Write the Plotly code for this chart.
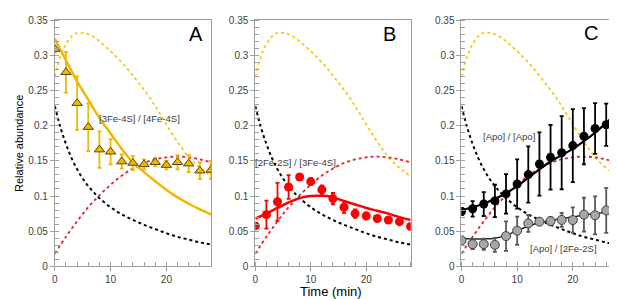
import plotly.graph_objects as go

# ---------------- data ----------------
t_ref = [0, 1, 2, 3, 4, 5, 6, 7, 8, 9, 10, 11, 12, 13, 14, 15, 16, 17, 18, 19, 20, 21, 22, 23, 24, 25, 26, 27, 28]
ref_yellow = [0.270, 0.298, 0.316, 0.327, 0.332, 0.332, 0.330, 0.326, 0.320, 0.313, 0.306, 0.298, 0.290, 0.281,
              0.271, 0.261, 0.251, 0.240, 0.228, 0.215, 0.202, 0.189, 0.177, 0.166, 0.155, 0.147, 0.140, 0.134, 0.128]
t_ref2 = [0, 1, 2, 3, 4, 5, 6, 7, 8, 10, 12, 14, 16, 18, 20, 22, 24, 26, 28]
ref_black = [0.228, 0.198, 0.174, 0.154, 0.138, 0.125, 0.114, 0.105, 0.097, 0.084, 0.074, 0.066, 0.059, 0.053,
             0.047, 0.042, 0.038, 0.034, 0.031]
t_ref3 = [0, 2, 4, 6, 8, 10, 12, 14, 16, 18, 20, 22, 24, 26, 28]
ref_red = [0.018, 0.042, 0.064, 0.084, 0.101, 0.116, 0.129, 0.139, 0.147, 0.152, 0.155, 0.156, 0.155, 0.152, 0.148]

t_data = [0, 2, 4, 6, 8, 10, 12, 14, 16, 18, 20, 22, 24, 26, 28]

# Panel A: [3Fe-4S]/[4Fe-4S]
a_vals = [0.309, 0.276, 0.232, 0.198, 0.166, 0.163, 0.149, 0.147, 0.145, 0.148, 0.144, 0.148, 0.146, 0.136, 0.137]
a_err = [0.005, 0.029, 0.038, 0.034, 0.026, 0.018, 0.010, 0.010, 0.007, 0.006, 0.006, 0.010, 0.012, 0.012, 0.013]
a_fit = [0.324, 0.293, 0.263, 0.237, 0.211, 0.189, 0.167, 0.148, 0.134, 0.121, 0.109, 0.098, 0.089, 0.081, 0.074]

# Panel B: [2Fe-2S]/[3Fe-4S]
b_vals = [0.0575, 0.0735, 0.0918, 0.1128, 0.127, 0.1205, 0.109, 0.0963, 0.084, 0.075, 0.0717, 0.068, 0.0658, 0.0635, 0.0566]
b_err = [0.0, 0.020, 0.027, 0.017, 0.003, 0.005, 0.006, 0.008, 0.008, 0.006, 0.005, 0.003, 0.003, 0.003, 0.003]
t_bfit = [0, 2, 4, 6, 8, 10, 12, 13, 14, 16, 18, 20, 22, 24, 26, 28]
b_fit = [0.068, 0.075, 0.083, 0.091, 0.097, 0.100, 0.1005, 0.100, 0.098, 0.093, 0.088, 0.083, 0.079, 0.075, 0.070, 0.066]

# Panel C: [Apo]/[Apo] and [Apo]/[2Fe-2S]
c1_vals = [0.078, 0.0818, 0.0886, 0.093, 0.103, 0.117, 0.1305, 0.1456, 0.155, 0.1616, 0.1717, 0.185, 0.196, 0.2014, 0.206]
c1_err = [0.005, 0.011, 0.017, 0.023, 0.028, 0.035, 0.040, 0.045, 0.046, 0.052, 0.052, 0.040, 0.036, 0.030, 0.024]
c1_fit = [0.080, 0.084, 0.089, 0.096, 0.104, 0.114, 0.126, 0.138, 0.149, 0.158, 0.167, 0.178, 0.190, 0.204, 0.219]
c2_vals = [0.037, 0.0315, 0.0315, 0.0305, 0.043, 0.0507, 0.061, 0.0635, 0.0644, 0.066, 0.0658, 0.0735, 0.0726, 0.0795, 0.0795]
c2_err = [0.004, 0.007, 0.008, 0.010, 0.021, 0.020, 0.012, 0.005, 0.006, 0.010, 0.018, 0.024, 0.027, 0.032, 0.025]
c2_fit = [0.040, 0.039, 0.039, 0.040, 0.044, 0.051, 0.057, 0.062, 0.065, 0.068, 0.070, 0.073, 0.075, 0.077, 0.080]

x_ticks = [0, 10, 20]
y_ticks = [0, 0.05, 0.1, 0.15, 0.2, 0.25, 0.3, 0.35]
y_ticklabels = ["0", "0.05", "0.1", "0.15", "0.2", "0.25", "0.3", "0.35"]

# ---------------- styles ----------------
GOLD = "#F2B700"
GOLD_DOT = "#F7C815"
RED = "#FF0000"
RED_DOT = "#E8202A"
FONT = "Liberation Sans"

fig = go.Figure()

panels = [("x", "y"), ("x2", "y2"), ("x3", "y3")]

# dotted reference curves on every panel
for xa, ya in panels:
    fig.add_trace(go.Scatter(x=t_ref, y=ref_yellow, mode="lines", xaxis=xa, yaxis=ya,
                             line=dict(color=GOLD_DOT, width=1.8, dash="dot", shape="spline"), showlegend=False))
    fig.add_trace(go.Scatter(x=t_ref3, y=ref_red, mode="lines", xaxis=xa, yaxis=ya,
                             line=dict(color=RED_DOT, width=1.8, dash="dot", shape="spline"), showlegend=False))
    fig.add_trace(go.Scatter(x=t_ref2, y=ref_black, mode="lines", xaxis=xa, yaxis=ya,
                             line=dict(color="#000000", width=2, dash="dot", shape="spline"), showlegend=False))

# Panel A
fig.add_trace(go.Scatter(x=t_data, y=a_fit, mode="lines", xaxis="x", yaxis="y",
                         line=dict(color=GOLD, width=2.5, shape="spline"), showlegend=False))
fig.add_trace(go.Scatter(x=t_data, y=a_vals, mode="markers", xaxis="x", yaxis="y",
                         error_y=dict(type="data", array=a_err, color=GOLD, thickness=1.8, width=2),
                         marker=dict(symbol="triangle-up", size=9, color=GOLD,
                                     line=dict(color="#5a4500", width=1)), showlegend=False))

# Panel B
fig.add_trace(go.Scatter(x=t_bfit, y=b_fit, mode="lines", xaxis="x2", yaxis="y2",
                         line=dict(color=RED, width=2.5, shape="spline"), showlegend=False))
fig.add_trace(go.Scatter(x=t_data, y=b_vals, mode="markers", xaxis="x2", yaxis="y2",
                         error_y=dict(type="data", array=b_err, color=RED, thickness=1.8, width=2),
                         marker=dict(symbol="circle", size=9, color=RED), showlegend=False))

# Panel C
fig.add_trace(go.Scatter(x=t_data, y=c2_fit, mode="lines", xaxis="x3", yaxis="y3",
                         line=dict(color="#262626", width=1.5, shape="spline"), showlegend=False))
fig.add_trace(go.Scatter(x=t_data, y=c2_vals, mode="markers", xaxis="x3", yaxis="y3",
                         error_y=dict(type="data", array=c2_err, color="#595959", thickness=1.8, width=2),
                         marker=dict(symbol="circle", size=9, color="#A6A6A6",
                                     line=dict(color="#404040", width=1)), showlegend=False))
fig.add_trace(go.Scatter(x=t_data, y=c1_fit, mode="lines", xaxis="x3", yaxis="y3",
                         line=dict(color="#000000", width=2.2, shape="spline"), showlegend=False))
fig.add_trace(go.Scatter(x=t_data, y=c1_vals, mode="markers", xaxis="x3", yaxis="y3",
                         error_y=dict(type="data", array=c1_err, color="#000000", thickness=1.8, width=2),
                         marker=dict(symbol="circle", size=9, color="#000000"), showlegend=False))

W, H = 617, 299
x_domains = [[44 / W, 201 / W], [245.5 / W, 401.5 / W], [452.7 / W, 609.3 / W]]
y_domain = [1 - 263 / H, 1 - 7.5 / H]

axis_common = dict(showline=True, linecolor="#A0A0A0", linewidth=1, mirror=True, showgrid=False,
                   zeroline=False, ticks="outside", ticklen=4, tickcolor="#A0A0A0",
                   tickfont=dict(family=FONT, size=10, color="#404040"))

layout = dict(width=W, height=H, margin=dict(l=0, r=0, t=0, b=0),
              paper_bgcolor="white", plot_bgcolor="white", showlegend=False,
              font=dict(family=FONT, color="#404040"))

for i, (xa, ya) in enumerate(panels):
    xk = "xaxis" if i == 0 else f"xaxis{i+1}"
    yk = "yaxis" if i == 0 else f"yaxis{i+1}"
    layout[xk] = dict(axis_common, domain=x_domains[i], range=[0, 28], tickmode="array",
                      tickvals=x_ticks, anchor=ya,
                      minor=dict(dtick=2, tick0=0, ticks="inside", ticklen=4, tickcolor="#A0A0A0"))
    layout[yk] = dict(axis_common, domain=y_domain, range=[0, 0.35], tickmode="array",
                      tickvals=y_ticks, ticktext=y_ticklabels, anchor=xa,
                      minor=dict(dtick=0.01, tick0=0, ticks="inside", ticklen=4, tickcolor="#A0A0A0"))

fig.update_layout(**layout)

ann = []
# panel letters
for txt, xr, yr in [("A", 186, 22), ("B", 380, 22), ("C", 583, 21)]:
    ann.append(dict(text=txt, x=xr / W, y=1 - yr / H, xref="paper", yref="paper", showarrow=False,
                    xanchor="center", yanchor="middle", font=dict(family=FONT, size=20, color="#000000")))
# series labels
for txt, xr, yr in [("[3Fe-4S] / [4Fe-4S]", 128.7, 110), ("[2Fe-2S] / [3Fe-4S]", 285.7, 155),
                    ("[Apo] / [Apo]", 500, 128), ("[Apo] / [2Fe-2S]", 554.7, 245)]:
    ann.append(dict(text=txt, x=xr / W, y=1 - yr / H, xref="paper", yref="paper", showarrow=False,
                    xanchor="center", yanchor="middle", font=dict(family=FONT, size=9.5, color="#404040")))
# axis titles
ann.append(dict(text="Relative abundance", x=8 / W, y=1 - 135 / H, xref="paper", yref="paper",
                showarrow=False, textangle=-90, xanchor="center", yanchor="middle",
                font=dict(family=FONT, size=11, color="#000000")))
ann.append(dict(text="Time (min)", x=322 / W, y=1 - 289.5 / H, xref="paper", yref="paper",
                showarrow=False, xanchor="center", yanchor="middle", borderpad=0,
                font=dict(family=FONT, size=13, color="#000000")))
fig.update_layout(annotations=ann)

fig.write_html("out.html")
